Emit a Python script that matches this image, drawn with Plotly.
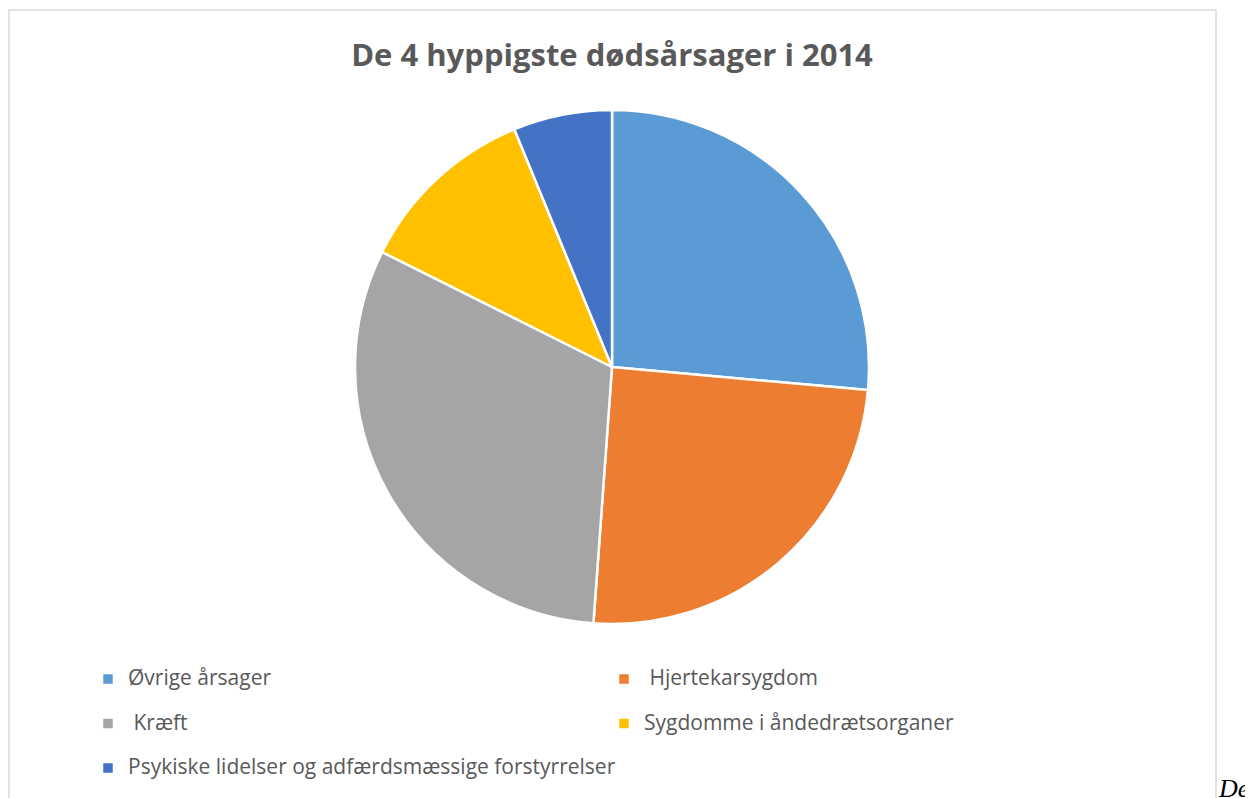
import plotly.graph_objects as go

# Figure size (page body has an 8px margin, so map page px -> figure px)
W, H = 1245, 790
OFF = 8

categories = ["Øvrige årsager", "\u00a0Hjertekarsygdom", "\u00a0Kræft",
              "Sygdomme i åndedrætsorganer",
              "Psykiske lidelser og adfærdsmæssige forstyrrelser"]
values = [26.4, 24.7, 31.2, 11.4, 6.2]
colors = ["#5B9BD5", "#ED7D31", "#A5A5A5", "#FFC000", "#4472C4"]
title = "De 4 hyppigste dødsårsager i 2014"


def px_x(x):
    return (x - OFF) / W


def px_y(y):
    return (H - (y - OFF)) / H


cx, cy, r = 612, 367, 257

labels = ['<span style="font-size:21px">%s</span><br>\u00a0' % c for c in categories]

fig = go.Figure(go.Pie(
    labels=labels,
    values=values,
    customdata=[c.strip("\u00a0") for c in categories],
    hovertemplate="%{customdata}: %{percent}<extra></extra>",
    sort=False,
    direction="clockwise",
    rotation=0,
    marker=dict(colors=colors, line=dict(color="white", width=2.5)),
    textinfo="none",
    domain=dict(x=[px_x(cx - r), px_x(cx + r)], y=[px_y(cy + r), px_y(cy - r)]),
))

fig.update_layout(
    width=W, height=H,
    margin=dict(l=0, r=0, t=0, b=0, autoexpand=False),
    paper_bgcolor="white",
    font=dict(family="Open Sans, Liberation Sans, sans-serif", color="#595959"),
    title=dict(text="<b>%s</b>" % title, x=px_x(612), xanchor="center",
               y=px_y(55), yanchor="middle",
               font=dict(size=31, color="#595959", family="Open Sans, sans-serif")),
    showlegend=True,
    legend=dict(orientation="h", x=px_x(88), xanchor="left",
                y=px_y(662), yanchor="top",
                entrywidth=471, entrywidthmode="pixels",
                valign="top",
                font=dict(size=16, color="#595959"),
                bgcolor="rgba(0,0,0,0)"),
    shapes=[dict(type="rect", xref="paper", yref="paper",
                 x0=px_x(9), x1=px_x(1216), y0=-0.05, y1=px_y(10),
                 line=dict(color="#D9D9D9", width=1.5))],
    annotations=[dict(text="<i>De</i>", xref="paper", yref="paper",
                      x=px_x(1216), xanchor="left", y=px_y(772), yanchor="top",
                      showarrow=False,
                      font=dict(family="Liberation Serif, serif", size=26, color="black"))],
)

fig.write_html("out.html")
